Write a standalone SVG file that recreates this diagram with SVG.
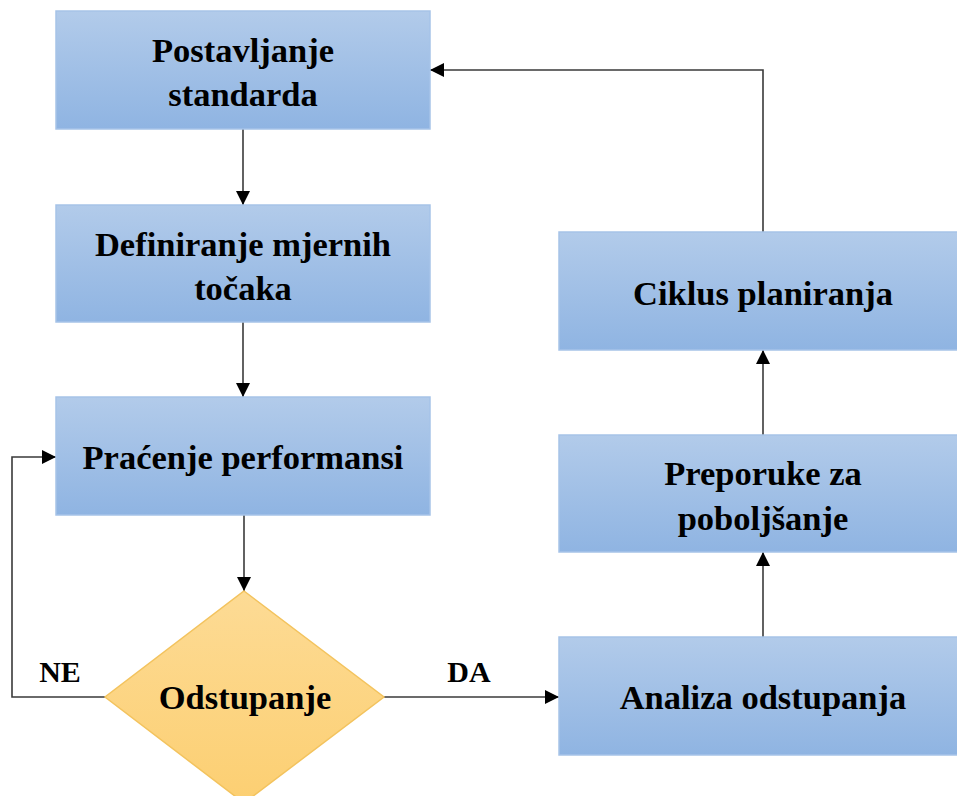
<svg xmlns="http://www.w3.org/2000/svg" width="957" height="796" viewBox="0 0 957 796">
<defs>
<linearGradient id="blue" x1="0" y1="0" x2="0" y2="1">
<stop offset="0" stop-color="#b2cbea"/>
<stop offset="1" stop-color="#8fb4e2"/>
</linearGradient>
<linearGradient id="gold" x1="0" y1="0" x2="0" y2="1">
<stop offset="0" stop-color="#fddb95"/>
<stop offset="1" stop-color="#fccf72"/>
</linearGradient>
<marker id="arr" viewBox="0 0 10 10" refX="10" refY="5" markerWidth="14" markerHeight="14" markerUnits="userSpaceOnUse" orient="auto">
<path d="M0,0 L10,5 L0,10 Z" fill="#000"/>
</marker>
</defs>
<style>
.box{fill:url(#blue);stroke:#a6c3e8;stroke-width:1.5}
.dia{fill:url(#gold);stroke:#f3c35e;stroke-width:1.5}
.t{font-family:"Liberation Serif","Times New Roman",serif;font-weight:bold;font-size:34.5px;fill:#000;text-anchor:middle}
.l{font-size:30px}
.c{fill:none;stroke:#3a3a3a;stroke-width:1.6;marker-end:url(#arr)}
</style>
<rect width="957" height="796" fill="#fff"/>
<g id="connectors">
<path class="c" d="M243,129 V205"/>
<path class="c" d="M243,322 V397"/>
<path class="c" d="M244,515 V591"/>
<path class="c" d="M105,697 H12 V457 H56"/>
<path class="c" d="M384,697 H559"/>
<path class="c" d="M763,637 V552"/>
<path class="c" d="M763,435 V350"/>
<path class="c" d="M763,232 V70 H430"/>
<text class="t l" x="60" y="682">NE</text>
<text class="t l" x="469" y="682">DA</text>
</g>
<g id="n1"><rect class="box" x="56" y="11" width="374" height="118"/><text class="t" x="243" y="62">Postavljanje</text><text class="t" x="243" y="106">standarda</text></g>
<g id="n2"><rect class="box" x="56" y="205" width="374" height="117"/><text class="t" x="243" y="256">Definiranje mjernih</text><text class="t" x="243" y="300">točaka</text></g>
<g id="n3"><rect class="box" x="56" y="397" width="374" height="118"/><text class="t" x="243" y="469">Praćenje performansi</text></g>
<g id="n4"><path class="dia" d="M244,591 L384,697 L244,803 L105,697 Z"/><text class="t" x="245" y="709">Odstupanje</text></g>
<g id="n5"><rect class="box" x="559" y="637" width="400" height="118"/><text class="t" x="763" y="709">Analiza odstupanja</text></g>
<g id="n6"><rect class="box" x="559" y="435" width="400" height="117"/><text class="t" x="763" y="485">Preporuke za</text><text class="t" x="763" y="530">poboljšanje</text></g>
<g id="n7"><rect class="box" x="559" y="232" width="400" height="118"/><text class="t" x="763" y="305">Ciklus planiranja</text></g>
</svg>
